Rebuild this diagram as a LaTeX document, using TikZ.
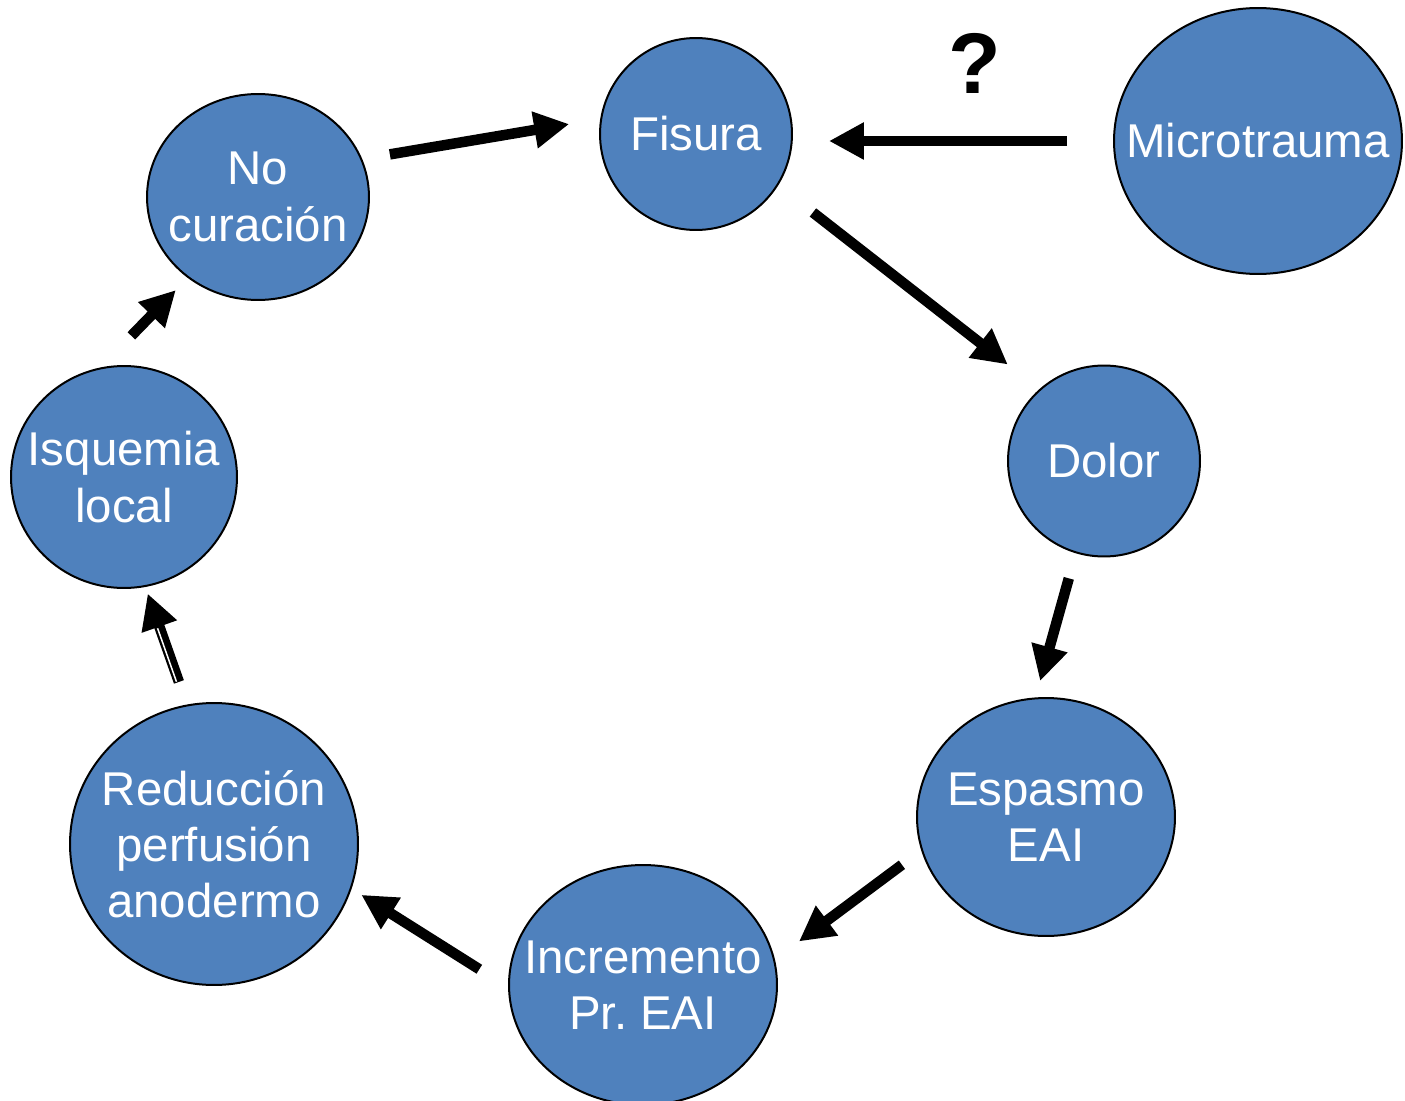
\documentclass[tikz,border=0pt]{standalone}
\usepackage{fontspec}
\setmainfont{Liberation Sans}
\usetikzlibrary{arrows.meta,shapes.geometric}
\definecolor{nodeblue}{HTML}{4F81BD}
\begin{document}
\frenchspacing
\begin{tikzpicture}[x=0.02cm,y=-0.02cm,
  bub/.style={ellipse,draw=black,line width=0.04cm,fill=nodeblue,text=white,align=center,
    font=\fontsize{27}{32}\selectfont,inner xsep=-0.8cm,inner ysep=-0.4cm},
  arr/.style={line width=0.21cm,-{Triangle[length=0.7cm,width=0.7cm]}}]
\useasboundingbox (0,0) rectangle (1405,1101);
\node[bub,minimum width=3.84cm,minimum height=3.84cm] (fis) at (696,134) {Fisura};
\node[bub,minimum width=5.76cm,minimum height=5.32cm] (micro) at (1258,141) {Microtrauma};
\node[bub,minimum width=4.44cm,minimum height=4.12cm] (nocur) at (258,197) {No\\curación};
\node[bub,minimum width=3.84cm,minimum height=3.82cm] (dolor) at (1104,461) {Dolor};
\node[bub,minimum width=4.52cm,minimum height=4.44cm] (isq) at (124,477) {Isquemia\\local};
\node[bub,minimum width=5.16cm,minimum height=4.76cm] (esp) at (1046,817) {Espasmo\\EAI};
\node[bub,minimum width=5.76cm,minimum height=5.64cm] (red) at (214,844) {Reducción\\perfusión\\anodermo};
\node[bub,minimum width=5.36cm,minimum height=4.8cm] (inc) at (643,985) {Incremento\\Pr.\ EAI};
\node[font=\fontsize{49}{55}\selectfont\bfseries] (q) at (975,63) {?};

\draw[arr,shorten <=0.56cm,shorten >=0.63cm] (nocur.20.4) -- (fis.171);
\draw[arr,shorten <=0.92cm,shorten >=0.72cm] (micro.west) -- (micro.west -| fis.east);
\draw[arr,shorten <=0.88cm,shorten >=0.8cm] (fis.-32.6) -- (dolor.132);
\draw[arr,shorten <=0.52cm,shorten >=0.34cm] (dolor.253.7) -- (esp.95.2);
\draw[arr,shorten <=0.48cm,shorten >=0.6cm] (esp.195.4) -- (inc.11.9);
\draw[arr,shorten <=0.68cm,shorten >=0.23cm] (inc.181.2) -- (red.-18.6);
\draw[arr,shorten <=0.48cm,shorten >=0.14cm] (red.101.4) -- (isq.-79.8);
\draw[white,line width=0.03cm,shorten <=0.5cm,shorten >=0.86cm,
  transform canvas={xshift=-0.042cm,yshift=-0.015cm}] (red.101.4) -- (isq.-79.8);
\draw[arr,shorten <=0.88cm,shorten >=0.34cm] (isq.102.4) -- (nocur.229.5);
\end{tikzpicture}
\end{document}
